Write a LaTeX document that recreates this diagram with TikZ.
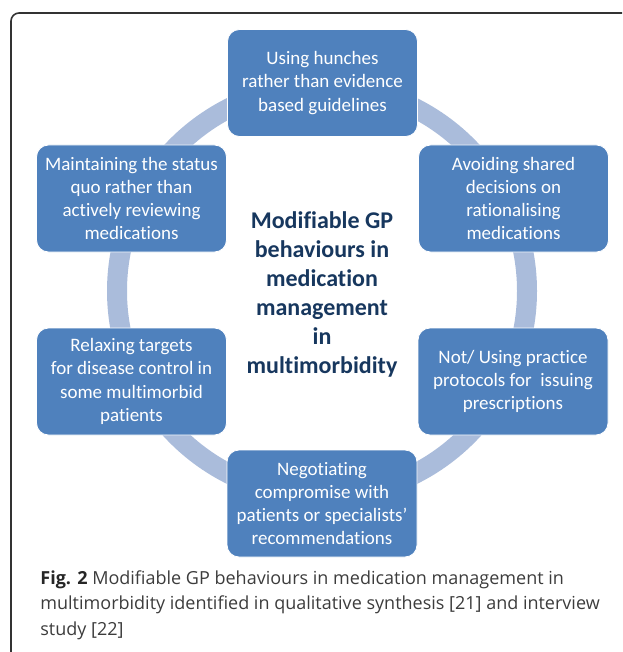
\documentclass[tikz,border=0pt]{standalone}
\usepackage{fontspec}
\setmainfont[Ligatures={TeX,NoCommon}]{Carlito}
\newfontfamily\captionfont{Open Sans}
\definecolor{boxblue}{RGB}{79,129,189}
\definecolor{ringblue}{RGB}{170,188,219}
\definecolor{hubnavy}{RGB}{23,55,94}
\definecolor{capgray}{RGB}{60,60,60}

\begin{document}
\begin{tikzpicture}[x=1pt,y=-1pt,thick,
  box node/.style={rectangle,rounded corners=12pt,fill=boxblue,draw=white,line width=0.8pt,minimum width=190pt,minimum height=107pt,text=white,align=center,font=\fontsize{19}{23.3}\selectfont},
  hub node/.style={align=center,text=hubnavy,font=\fontsize{24}{29}\selectfont\bfseries},
  caption text/.style={align=left,inner sep=0pt,text=capgray,font=\captionfont\fontsize{18}{25.5}\selectfont},
  ring/.style={draw=ringblue,line width=20pt},
  frame/.style={draw=black!80,line width=1.6pt,rounded corners=8pt}]
  \useasboundingbox (0,0) rectangle (622,652);
  \begin{scope}
    \clip (0,0) rectangle (622,652);
    \draw[frame] (11,13) rectangle (660,670);
  \end{scope}

  % ring behind the boxes
  \coordinate (c) at (322,291);
  \draw[ring] (c) circle (205pt);

  \node[box node] (hunch) at (322.5,83) {Using hunches\\rather than evidence\\based guidelines};
  \node[box node] (shared) at (513.5,198.5) {Avoiding shared\\decisions on\\rationalising\\medications};
  \node[box node] (protocol) at (513,381.5) {Not/ Using practice\\protocols for~ issuing\\prescriptions};
  \node[box node] (compromise) at (322,503.5) {Negotiating\\compromise with\\patients or specialists’\\recommendations};
  \node[box node] (targets) at (131.5,381.5) {Relaxing targets\\for disease control in\\some multimorbid\\patients};
  \node[box node] (status) at (131.5,198.5) {Maintaining the status\\quo rather than\\actively reviewing\\medications};
  \node[hub node] (hub) at (322,294) {Modifiable GP\\behaviours in\\medication\\management\\in\\multimorbidity};

  \node[caption text,anchor=north west] (caption) at (40,570) {{\bfseries\color{black!85}Fig. 2} Modifiable GP behaviours in medication management in\\multimorbidity identified in qualitative synthesis [21] and interview\\study [22]};
\end{tikzpicture}
\end{document}
